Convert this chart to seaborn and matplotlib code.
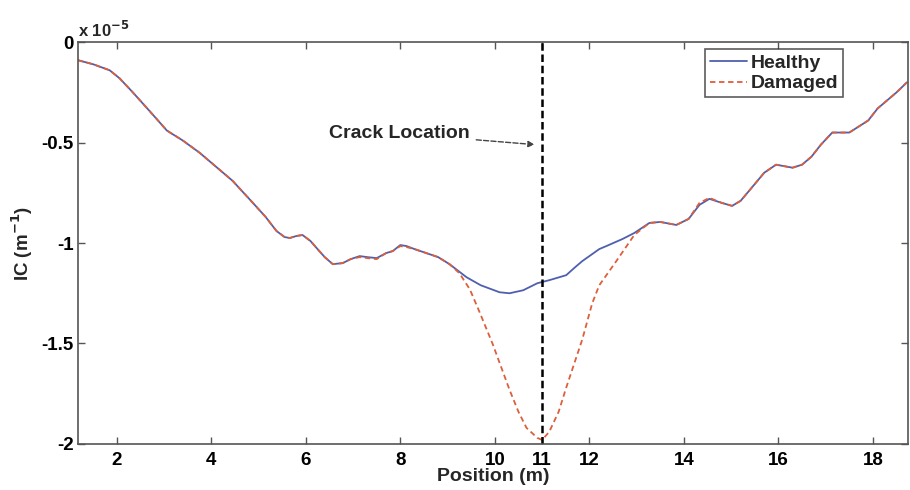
import matplotlib
matplotlib.use("Agg")
import matplotlib.pyplot as plt
import pandas as pd
import seaborn as sns

# values, IC in units of 1e-5 m^-1
healthy_pos = [1.18, 1.5, 1.85, 2.06, 2.34, 2.76, 3.06, 3.4, 3.75, 4.1, 4.45, 4.88, 5.15, 5.38,
               5.55, 5.66, 5.8, 5.93, 6.1, 6.23, 6.4, 6.57, 6.78, 6.95, 7.14, 7.3, 7.5, 7.7,
               7.84, 8.0, 8.13, 8.3, 8.55, 8.8, 9.04, 9.4, 9.7, 10.1, 10.31, 10.6, 10.9, 11.15,
               11.51, 11.7, 11.85, 12.21, 12.36, 12.7, 12.95, 13.27, 13.5, 13.84, 14.1, 14.33,
               14.54, 14.8, 15.02, 15.2, 15.38, 15.7, 15.95, 16.3, 16.5, 16.7, 16.9, 17.14,
               17.5, 17.7, 17.9, 18.1, 18.3, 18.5, 18.72]
healthy_ic = [-0.09, -0.11, -0.14, -0.18, -0.25, -0.36, -0.44, -0.49, -0.55, -0.62, -0.69, -0.80,
              -0.87, -0.94, -0.97, -0.975, -0.965, -0.96, -0.99, -1.025, -1.07, -1.105, -1.10,
              -1.08, -1.065, -1.07, -1.075, -1.05, -1.04, -1.01, -1.015, -1.03, -1.05, -1.07,
              -1.105, -1.17, -1.21, -1.245, -1.25, -1.235, -1.20, -1.185, -1.16, -1.12, -1.09,
              -1.03, -1.015, -0.98, -0.95, -0.90, -0.895, -0.91, -0.88, -0.81, -0.78, -0.80,
              -0.815, -0.79, -0.74, -0.65, -0.61, -0.625, -0.61, -0.57, -0.51, -0.45, -0.45,
              -0.42, -0.39, -0.33, -0.29, -0.25, -0.20]

damaged_pos = [1.18, 1.5, 1.85, 2.06, 2.34, 2.76, 3.06, 3.4, 3.75, 4.1, 4.45, 4.88, 5.15, 5.38,
               5.55, 5.66, 5.8, 5.93, 6.1, 6.23, 6.4, 6.57, 6.78, 6.95, 7.14, 7.3, 7.5, 7.7,
               7.84, 8.0, 8.13, 8.3, 8.55, 8.8, 9.04, 9.25, 9.47, 9.67, 9.95, 10.31, 10.5,
               10.67, 10.9, 11.0, 11.15, 11.35, 11.51, 11.85, 12.06, 12.21, 12.57, 12.95,
               13.27, 13.5, 13.84, 14.1, 14.33, 14.54, 14.8, 15.02, 15.2, 15.38, 15.7, 15.95,
               16.3, 16.5, 16.7, 16.9, 17.14, 17.5, 17.7, 17.9, 18.1, 18.3, 18.5, 18.72]
damaged_ic = [-0.09, -0.11, -0.14, -0.18, -0.25, -0.36, -0.44, -0.49, -0.55, -0.62, -0.69, -0.80,
              -0.87, -0.94, -0.97, -0.975, -0.965, -0.96, -0.99, -1.025, -1.07, -1.105, -1.10,
              -1.08, -1.07, -1.075, -1.08, -1.05, -1.04, -1.015, -1.02, -1.03, -1.05, -1.07,
              -1.105, -1.15, -1.23, -1.34, -1.50, -1.73, -1.84, -1.92, -1.97, -1.98, -1.94,
              -1.84, -1.72, -1.48, -1.30, -1.21, -1.09, -0.96, -0.90, -0.895, -0.91, -0.88,
              -0.80, -0.775, -0.80, -0.815, -0.79, -0.74, -0.65, -0.61, -0.625, -0.61, -0.57,
              -0.51, -0.45, -0.45, -0.42, -0.39, -0.33, -0.29, -0.25, -0.20]

crack_pos = 11
x_ticks = [2, 4, 6, 8, 10, 11, 12, 14, 16, 18]
y_ticks = [0, -0.5, -1, -1.5, -2]
y_tick_labels = ["0", "-0.5", "-1", "-1.5", "-2"]

df_h = pd.DataFrame({"pos": healthy_pos, "ic": healthy_ic})
df_d = pd.DataFrame({"pos": damaged_pos, "ic": damaged_ic})

sns.set_style("ticks")
plt.rcParams["font.family"] = ["Liberation Sans", "DejaVu Sans"]
plt.rcParams["font.weight"] = "bold"

fig = plt.figure(figsize=(9.1, 4.9), dpi=100)
ax = fig.add_axes([0.0857, 0.094, 0.912, 0.82])

sns.lineplot(data=df_h, x="pos", y="ic", ax=ax, color="#4f5fae", linewidth=1.3,
             label="Healthy", sort=False)
sns.lineplot(data=df_d, x="pos", y="ic", ax=ax, color="#dd5f3a", linewidth=1.3,
             linestyle=(0, (3, 2)), label="Damaged", sort=False)

ax.axvline(crack_pos, color="black", linestyle=(0, (3, 1.5)), linewidth=1.8)

ax.annotate("Crack Location", xy=(10.84, -0.51), xytext=(6.5, -0.455),
            fontsize=14, fontweight="bold", va="center",
            arrowprops=dict(arrowstyle="-|>", color="#444444", linestyle="--",
                            linewidth=1, shrinkA=2, shrinkB=0, mutation_scale=9))

ax.set_xlim(1.18, 18.74)
ax.set_ylim(-2, 0)
ax.set_xticks(x_ticks)
ax.set_yticks(y_ticks)
ax.set_yticklabels(y_tick_labels)
ax.tick_params(direction="in", length=5, width=1, colors="#555555", labelcolor="black",
               labelsize=13.5, top=True, right=True)
ax.tick_params(axis="x", pad=6)
ax.tick_params(axis="y", pad=3)
for label in ax.get_xticklabels() + ax.get_yticklabels():
    label.set_fontweight("bold")
for side in ax.spines.values():
    side.set_color("#555555")
    side.set_linewidth(1.2)

ax.set_xlabel("Position (m)", fontsize=14, fontweight="bold", labelpad=-1)
ax.set_ylabel("IC (m$^{\\mathbf{-1}}$)", fontsize=13.5, fontweight="bold", labelpad=5)
ax.text(0.0, 1.006, "x 10$^{\\mathbf{-5}}$", transform=ax.transAxes, fontsize=12,
        fontweight="bold", ha="left", va="bottom")

leg = ax.legend(loc="upper right", bbox_to_anchor=(0.922, 0.982), frameon=True,
                fancybox=False, edgecolor="#333333", fontsize=14, handlelength=1.9,
                borderpad=0.25, labelspacing=0.15, handletextpad=0.2, borderaxespad=0)
leg.get_frame().set_linewidth(1.2)
for t in leg.get_texts():
    t.set_fontweight("bold")

fig.savefig("out.png", dpi=100)
